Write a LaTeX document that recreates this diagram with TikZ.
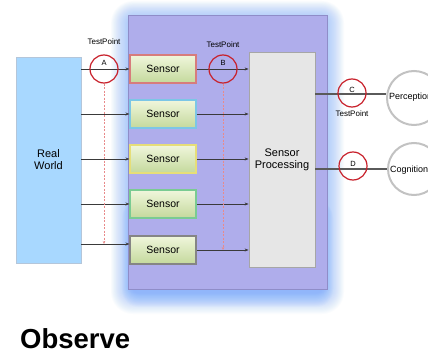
\documentclass[tikz,border=0pt]{standalone}
\usepackage{fontspec}
\setmainfont{Liberation Sans}
\usetikzlibrary{arrows.meta,calc}

\definecolor{panel}{HTML}{AFADEB}
\definecolor{panelline}{HTML}{8F8DC8}
\definecolor{glowblue}{HTML}{5E9BFA}
\definecolor{worldfill}{HTML}{A8D8FF}
\definecolor{worldline}{HTML}{B4C6DA}
\definecolor{procfill}{HTML}{E6E6E6}
\definecolor{procline}{HTML}{A6A6A6}
\definecolor{sensortop}{HTML}{F0F6DC}
\definecolor{sensorbot}{HTML}{C4D99C}
\definecolor{edgered}{HTML}{D77C7C}
\definecolor{edgeblue}{HTML}{7CC6E6}
\definecolor{edgeyellow}{HTML}{E6DE78}
\definecolor{edgegreen}{HTML}{7ACB92}
\definecolor{edgegray}{HTML}{858585}
\definecolor{tpred}{HTML}{C8202A}
\definecolor{tpdash}{HTML}{E88A8A}
\definecolor{ringgray}{HTML}{C2C2C2}
\definecolor{wire}{HTML}{3A3A3A}
\definecolor{outwire}{HTML}{5A5A5A}

\tikzset{
  fsz/.style={font=\fontsize{#1}{#1}\selectfont},
  sensorbox/.style={rectangle, minimum width=66pt, minimum height=28pt,
    top color=sensortop, bottom color=sensorbot, draw=#1, line width=1.1pt,
    fsz=10.5, inner sep=0pt},
  tp/.style={circle, draw=tpred, line width=1.2pt, minimum size=28pt, inner sep=0pt},
  tplabel/.style={fsz=8, inner sep=0pt},
  tpletter/.style={fsz=7.5, inner sep=0pt},
  conn/.style={draw=wire, line width=0.8pt, -{Stealth[length=4pt,width=3pt]}},
  tpline/.style={draw=tpdash, line width=0.7pt, dashed, dash pattern=on 2pt off 1.5pt,
    -{Stealth[length=3pt,width=2.5pt]}},
  outline/.style={draw=outwire, line width=2pt},
  ring/.style={circle, draw=ringgray, line width=2pt, fill=white, inner sep=0pt},
}

\begin{document}
\begin{tikzpicture}[x=1pt,y=-1pt]
\useasboundingbox (0,0) rectangle (428,353);
\fill[white] (0,0) rectangle (428,353);

% soft blue glow around the sensing panel, heavier below
\foreach \i in {1,...,20} {
  \fill[glowblue, opacity=0.028, rounded corners={6+0.8*\i}]
    ({128-0.85*\i},{17-0.8*\i}) rectangle ({327+0.85*\i},{292+1.1*\i});
}
\foreach \i in {1,...,12} {
  \fill[glowblue, opacity=0.035, rounded corners={6+\i}]
    ({134-\i},{200}) rectangle ({321+\i},{293+1.2*\i});
}

% sensing panel
\node[rectangle, fill=panel, draw=panelline, line width=0.8pt, inner sep=0pt,
      minimum width=199pt, minimum height=274pt] (panel) at (227.5,152) {};

% real world
\node[rectangle, fill=worldfill, draw=worldline, line width=0.8pt, inner sep=0pt,
      minimum width=65pt, minimum height=206pt, fsz=11, align=center] (rw) at (48.5,160)
      {Real\\[1pt]World};

% sensor processing
\node[rectangle, fill=procfill, draw=procline, line width=0.8pt, inner sep=0pt,
      minimum width=66pt, minimum height=215pt, fsz=11, align=center] (sp) at (282,159.5)
      {Sensor\\[1pt]Processing};

% sensors
\node[sensorbox=edgered] (s1) at (163,69) {Sensor};
\node[sensorbox=edgeblue] (s2) at (163,114) {Sensor};
\node[sensorbox=edgeyellow] (s3) at (163,159) {Sensor};
\node[sensorbox=edgegreen] (s4) at (163,204) {Sensor};
\node[sensorbox=edgegray] (s5) at (163,250) {Sensor};

\coordinate (w5) at ($(s5.west)+(0,-6)$);

% world to sensors
\foreach \s in {s1,s2,s3,s4} {
  \draw[conn] (\s.west -| rw.east) -- (\s.west);
}
\draw[conn] (w5 -| rw.east) -- (w5);

% sensors to processing
\foreach \s in {s1,s2,s3,s4,s5} {
  \draw[conn] (\s.east) -- (\s.east -| sp.west);
}

% test points A and B
\node[tp] (tpa) at (104,69) {};
\node[tpletter] at ($(tpa.center)+(0,-6)$) {A};
\node[tplabel] at (104,42) {TestPoint};
\draw[tpline] (tpa.south) -- (tpa.south |- w5);

\node[tp] (tpb) at (223,69) {};
\node[tpletter] at ($(tpb.center)+(0,-6)$) {B};
\node[tplabel] at (223,45) {TestPoint};
\draw[tpline] (tpb.south) -- (tpb.south |- s5.east);

% outputs
\node[ring, minimum size=54pt] (perc) at (414,98) {};
\node[ring, minimum size=52pt] (cogn) at (414,169) {};

\coordinate (oc) at (352,94);
\coordinate (od) at (352,169);
\draw[outline] (oc -| sp.east) -- (oc -| perc.west);
\draw[outline] (od -| sp.east) -- (od -| cogn.west);

\node[tp] (tpc) at (352,93) {};
\node[tpletter] at ($(tpc.center)+(0,-3)$) {C};
\node[tplabel] at (352,114) {TestPoint};

\node[tp] (tpd) at (353,166) {};
\node[tpletter] at ($(tpd.center)+(0,-2)$) {D};

\node[fsz=9, anchor=west, inner sep=0pt] at ($(perc.west)+(3,-1)$) {Perception};
\node[fsz=9, anchor=west, inner sep=0pt] at ($(cogn.west)+(3,1)$) {Cognition};

% title
\node[font=\bfseries\fontsize{27.5}{28}\selectfont, anchor=base west, inner sep=0pt] (title) at (20,348) {Observe};
\end{tikzpicture}
\end{document}
